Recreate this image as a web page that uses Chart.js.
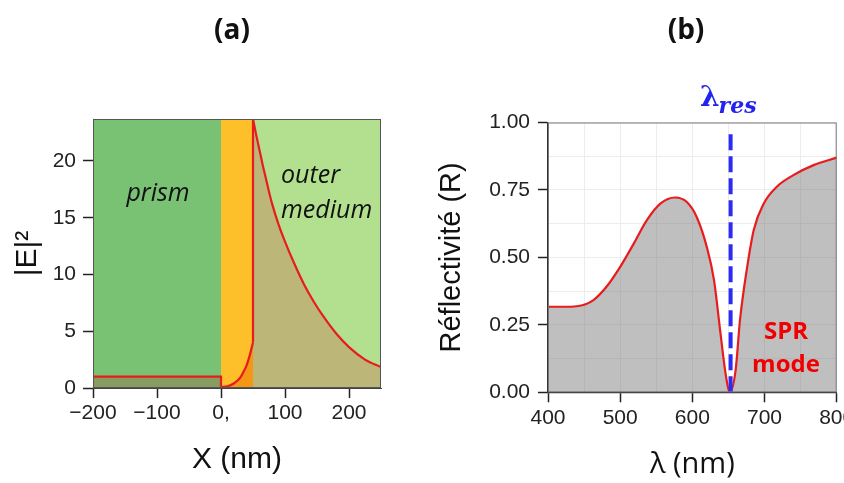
<!DOCTYPE html>
<html>
<head>
<meta charset="utf-8">
<script src="https://cdn.jsdelivr.net/npm/chart.js@4.4.1/dist/chart.umd.min.js"></script>
<style>
  html, body { margin: 0; padding: 0; background: #fff; width: 844px; height: 483px; overflow: hidden; }
  #wrap { position: relative; width: 844px; height: 483px; overflow: hidden; }
  canvas { position: absolute; top: 0; }
  #chartA { left: 0; }
  #chartB { left: 420px; }
</style>
</head>
<body>
<div id="wrap">
  <canvas id="chartA" width="420" height="483"></canvas>
  <canvas id="chartB" width="440" height="483"></canvas>
</div>
<script>
// ---- (a) |E|^2 across prism / metal film / outer medium ----
const regionStart = [-200, 0, 50];
const regionEnd = [0, 50, 250];
const xTicksA = [-200, -100, 0, 100, 200];
const xTickLabelsA = ['−200', '−100', '0,', '100', '200'];
const yTicksA = [0, 5, 10, 15, 20];

const prismX = [-200, 0, 0];
const prismY = [1.0, 1.0, 0.1];
const metalX = [0, 10, 20, 30, 35, 40, 45, 50];
const metalY = [0.1, 0.15, 0.4, 0.9, 1.4, 2.0, 2.9, 4.0];
const jumpX = [50, 50];
const jumpY = [4.0, 23.7];
const outerX = [50, 55, 60, 65, 70, 75, 80, 90, 100, 115, 130, 145, 160, 180, 200, 225, 250];
const outerY = [23.7, 22.3, 21.0, 19.7, 18.5, 17.3, 16.2, 14.4, 12.9, 10.9, 9.1, 7.6, 6.3, 4.8, 3.6, 2.5, 1.85];

// ---- (b) reflectivity spectrum ----
const lambda = [400, 420, 440, 463, 481, 500, 519, 537, 556, 576, 592, 606, 620, 630, 639, 646, 652, 660, 666, 676, 685, 699, 717, 740, 768, 800];
const reflect = [0.317, 0.317, 0.319, 0.342, 0.391, 0.465, 0.552, 0.638, 0.70, 0.722, 0.706, 0.65, 0.539, 0.416, 0.218, 0.07, 0.0, 0.083, 0.268, 0.465, 0.601, 0.70, 0.762, 0.805, 0.842, 0.870];
const lambdaRes = 653;
const xTicksB = [400, 500, 600, 700, 800];
const xGridB = [400, 450, 500, 550, 600, 650, 700, 750, 800];
const yTicksB = [0, 0.25, 0.5, 0.75, 1];
const yGridB = [0, 0.125, 0.25, 0.375, 0.5, 0.625, 0.75, 0.875, 1];

const pts = (xs, ys) => xs.map((x, i) => ({ x: x, y: ys[i] }));

const RED = 'rgb(232,28,28)';
const tickFont = { family: 'Liberation Sans', size: 21 };
const tickColor = '#222';

// coloured layers behind panel (a)
const regionColors = ['#79c173', '#fdbf2a', '#b3e08e'];
const layersPlugin = {
    id: 'layers',
    beforeDatasetsDraw(chart) {
        const { ctx, chartArea, scales } = chart;
        ctx.save();
        regionStart.forEach((s, i) => {
            const x0 = scales.x.getPixelForValue(s);
            const x1 = scales.x.getPixelForValue(regionEnd[i]);
            ctx.fillStyle = regionColors[i];
            ctx.fillRect(x0, chartArea.top, x1 - x0, chartArea.bottom - chartArea.top);
        });
        ctx.restore();
    },
    afterDraw(chart) {
        const { ctx, chartArea } = chart;
        ctx.save();
        ctx.strokeStyle = '#555';
        ctx.lineWidth = 1;
        ctx.strokeRect(chartArea.left + 0.5, chartArea.top + 0.5, chartArea.right - chartArea.left - 1, chartArea.bottom - chartArea.top - 1);

        ctx.fillStyle = '#111';
        ctx.font = 'italic 25px "Open Sans"';
        ctx.textAlign = 'center';
        ctx.textBaseline = 'alphabetic';
        ctx.fillText('prism', 158, 201);
        ctx.textAlign = 'left';
        ctx.fillText('outer', 281, 183);
        ctx.fillText('medium', 281, 218);

        ctx.font = 'bold 28px "Open Sans"';
        ctx.textAlign = 'center';
        ctx.textBaseline = 'middle';
        ctx.fillText('(a)', 232, 31);
        ctx.restore();
    }
};

const annotPlugin = {
    id: 'annot',
    afterDraw(chart) {
        const { ctx, chartArea, scales } = chart;
        ctx.save();
        ctx.strokeStyle = '#777';
        ctx.lineWidth = 1;
        ctx.strokeRect(chartArea.left + 0.5, chartArea.top + 0.5, chartArea.right - chartArea.left - 1, chartArea.bottom - chartArea.top - 1);

        ctx.fillStyle = '#111';
        ctx.font = 'bold 28px "Open Sans"';
        ctx.textAlign = 'center';
        ctx.textBaseline = 'middle';
        ctx.fillText('(b)', 266, 31);

        const xr = scales.x.getPixelForValue(lambdaRes);
        ctx.fillStyle = '#2323f0';
        ctx.textBaseline = 'alphabetic';
        ctx.textAlign = 'right';
        ctx.font = 'bold 28px "DejaVu Serif"';
        ctx.fillText('λ', xr - 11, 106);
        ctx.textAlign = 'left';
        ctx.font = 'bold italic 22px "DejaVu Serif"';
        ctx.fillText('res', xr - 12, 113);

        ctx.fillStyle = 'rgb(240,0,0)';
        ctx.textAlign = 'center';
        ctx.font = 'bold 24px "Open Sans"';
        ctx.fillText('SPR', 366, 339);
        ctx.fillText('mode', 366, 372);
        ctx.restore();
    }
};

new Chart(document.getElementById('chartA').getContext('2d'), {
    type: 'line',
    data: {
        datasets: [{
            data: pts(prismX, prismY),
            borderColor: RED, borderWidth: 2.2, pointRadius: 0, tension: 0,
            fill: 'origin', backgroundColor: 'rgba(150,112,70,0.45)'
        }, {
            data: pts(metalX, metalY),
            borderColor: RED, borderWidth: 2.2, pointRadius: 0, cubicInterpolationMode: 'monotone',
            fill: 'origin', backgroundColor: 'rgba(240,110,0,0.5)'
        }, {
            data: pts(jumpX, jumpY),
            borderColor: RED, borderWidth: 2.2, pointRadius: 0, fill: false
        }, {
            data: pts(outerX, outerY),
            borderColor: RED, borderWidth: 2.2, pointRadius: 0, cubicInterpolationMode: 'monotone',
            fill: 'origin', backgroundColor: 'rgba(200,140,100,0.5)'
        }]
    },
    options: {
        responsive: false,
        animation: false,
        layout: { padding: { top: 119, right: 39, left: 0, bottom: 0 } },
        plugins: { legend: { display: false }, tooltip: { enabled: false } },
        scales: {
            x: {
                type: 'linear', min: -200, max: 250,
                afterFit: (s) => { s.height = 95; },
                afterBuildTicks: (s) => { s.ticks = xTicksA.map(v => ({ value: v })); },
                ticks: {
                    callback: (v) => xTickLabelsA[xTicksA.indexOf(v)],
                    font: tickFont, color: tickColor, padding: 3, maxRotation: 0, autoSkip: false
                },
                grid: { drawOnChartArea: false, drawTicks: true, tickLength: 10, tickColor: '#222', tickWidth: 1.5 },
                border: { display: true, color: '#444', width: 1 },
                title: { display: true, text: 'X (nm)', color: '#111', font: { family: 'Liberation Sans', size: 30 }, padding: { bottom: 5 } }
            },
            y: {
                min: 0, max: 23.7,
                afterFit: (s) => { s.width = 93; },
                afterBuildTicks: (s) => { s.ticks = yTicksA.map(v => ({ value: v })); },
                ticks: { font: tickFont, color: tickColor, padding: 7 },
                grid: { drawOnChartArea: false, drawTicks: true, tickLength: 10, tickColor: '#222', tickWidth: 1.5 },
                border: { display: true, color: '#444', width: 1 },
                title: { display: true, text: '|E|²', color: '#111', font: { family: 'Liberation Sans', size: 30 }, padding: { top: 10 } }
            }
        }
    },
    plugins: [layersPlugin]
});

new Chart(document.getElementById('chartB').getContext('2d'), {
    type: 'line',
    data: {
        datasets: [{
            data: [{ x: lambdaRes, y: 0 }, { x: lambdaRes, y: 0.97 }],
            borderColor: '#2b2bf5', borderWidth: 4, borderDash: [16, 6], pointRadius: 0, fill: false, order: 0
        }, {
            data: pts(lambda, reflect),
            borderColor: RED, borderWidth: 2.2, pointRadius: 0, cubicInterpolationMode: 'monotone',
            fill: 'origin', backgroundColor: 'rgba(120,120,120,0.47)', order: 1
        }]
    },
    options: {
        responsive: false,
        animation: false,
        layout: { padding: { top: 122.5, right: 23.3, left: 0, bottom: 0 } },
        plugins: { legend: { display: false }, tooltip: { enabled: false } },
        scales: {
            x: {
                type: 'linear', min: 400, max: 800,
                afterFit: (s) => { s.height = 90.7; },
                afterBuildTicks: (s) => { s.ticks = xGridB.map(v => ({ value: v })); },
                ticks: {
                    callback: (v) => xTicksB.includes(v) ? String(v) : '',
                    font: tickFont, color: tickColor, padding: 3, maxRotation: 0, autoSkip: false
                },
                grid: {
                    color: '#ececec', lineWidth: 1, tickLength: 10, tickWidth: 1.5,
                    tickColor: (c) => (c.tick && xTicksB.includes(c.tick.value)) ? '#222' : 'rgba(0,0,0,0)'
                },
                border: { display: true, color: '#333', width: 1.2 },
                title: { display: true, text: 'λ (nm)', color: '#111', font: { family: 'Open Sans', size: 29 }, padding: { bottom: 1 } }
            },
            y: {
                min: 0, max: 1,
                afterFit: (s) => { s.width = 128; },
                afterBuildTicks: (s) => { s.ticks = yGridB.map(v => ({ value: v })); },
                ticks: {
                    callback: (v) => yTicksB.includes(v) ? v.toFixed(2) : '',
                    font: tickFont, color: tickColor, padding: 8, autoSkip: false
                },
                grid: {
                    color: '#ececec', lineWidth: 1, tickLength: 10, tickWidth: 1.5,
                    tickColor: (c) => (c.tick && yTicksB.includes(c.tick.value)) ? '#222' : 'rgba(0,0,0,0)'
                },
                border: { display: true, color: '#333', width: 1.2 },
                title: { display: true, text: 'Réflectivité (R)', color: '#111', font: { family: 'Liberation Sans', size: 29 }, padding: { top: 15 } }
            }
        }
    },
    plugins: [annotPlugin]
});
</script>
</body>
</html>
